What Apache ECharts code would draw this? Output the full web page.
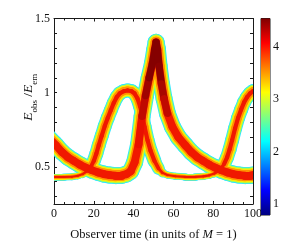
<!DOCTYPE html>
<html><head><meta charset="utf-8">
<script src="https://cdn.jsdelivr.net/npm/echarts@6/dist/echarts.min.js"></script>
<style>html,body{margin:0;padding:0;background:#fff}#c{width:298px;height:246px}</style>
</head><body><div id="c"></div>
<script>
// ---- data ----
const xTicks = [0, 20, 40, 60, 80, 100];
const yTickLabels = [0.5, 1, 1.5];
const yMinorTicks = [0.3, 0.4, 0.5, 0.6, 0.7, 0.8, 0.9, 1.0, 1.1, 1.2, 1.3, 1.4, 1.5];
const cbTicks = [1, 2, 3, 4];
const cbRange = [0.79, 4.53];

// centre line of the wide band (observer time, E_obs/E_em)
const bandA = [
  [-3, 0.70], [0, 0.658], [1, 0.645], [4, 0.60], [7, 0.565], [10, 0.54], [13, 0.515],
  [16, 0.495], [19, 0.478], [22, 0.463], [25, 0.452], [28, 0.445], [31, 0.441],
  [34, 0.443], [36.5, 0.452], [38.5, 0.47], [40.5, 0.53], [42.5, 0.65], [44.25, 0.84],
  [46, 0.98], [47.8, 1.1], [49.5, 1.2], [50.6, 1.29], [51.3, 1.34], [52.0, 1.29],
  [52.8, 1.18], [54.0, 1.06], [55.3, 0.96], [57.0, 0.86], [59.5, 0.77], [62.5, 0.70],
  [66, 0.645], [69, 0.60], [72, 0.565], [75, 0.54], [78, 0.515], [81, 0.495],
  [84, 0.478], [87, 0.463], [90, 0.452], [93, 0.445], [96, 0.441], [99, 0.443], [102, 0.452]
];
// centre line of the narrower band
const bandB = [
  [-3, 0.432], [0, 0.432], [5, 0.432], [9, 0.434], [12, 0.44], [14.5, 0.452], [16.5, 0.47],
  [18.5, 0.50], [20, 0.54], [21.3, 0.59], [22.5, 0.647], [24, 0.71], [25.5, 0.775],
  [27, 0.83], [28.5, 0.88], [30, 0.93], [31.5, 0.97], [33, 0.995], [35, 1.01], [37, 1.015],
  [39, 1.01], [40.5, 0.995], [42, 0.96], [43.2, 0.91], [44.25, 0.856], [45.5, 0.77],
  [47, 0.68], [48.5, 0.61], [50.5, 0.54], [52.5, 0.49], [54.5, 0.46], [57, 0.445],
  [61, 0.437], [66, 0.433], [71, 0.433], [75, 0.436], [78, 0.443], [80.5, 0.455],
  [82.5, 0.47], [84, 0.49], [85.5, 0.52], [87, 0.565], [88.3, 0.62], [89.5, 0.68],
  [91, 0.76], [92.5, 0.83], [94, 0.885], [95.5, 0.935], [97, 0.97], [98.5, 0.995],
  [100, 1.01], [102, 1.015]
];

// ---- styling ----
const FONT = "'Liberation Serif','Times New Roman',serif";
const layerColors = ['#2ee6ff', '#9cff5c', '#ffe800', '#ff9200', '#f01800'];
const aFactors = [1, 0.9, 0.79, 0.65, 0.46];
const bFactors = [1, 0.88, 0.75, 0.56, 0.3];
const A_W = 17;
function aWidth() { return A_W; }
function bWidth(y) {
  if (y < 0.45) return 7;
  if (y < 0.53) return 7 + (y - 0.45) / 0.08 * 7;
  return 14;
}
function hex2rgb(h) { return [1, 3, 5].map(i => parseInt(h.substr(i, 2), 16)); }
function mix(c1, c2, f) {
  const a = hex2rgb(c1), b = hex2rgb(c2);
  return 'rgb(' + a.map((v, i) => Math.round(v + (b[i] - v) * f)).join(',') + ')';
}
function segs(points, widthFn, factor, colorFn, filter) {
  const out = [];
  for (let i = 0; i < points.length - 1; i++) {
    const p = points[i], q = points[i + 1];
    const ym = (p[1] + q[1]) / 2, tm = (p[0] + q[0]) / 2;
    if (filter && !filter(tm, ym)) continue;
    const item = { coords: [p, q], lineStyle: { width: widthFn(ym, tm) * factor } };
    if (colorFn) item.lineStyle.color = colorFn(ym, tm);
    out.push(item);
  }
  return out;
}

const series = [];
for (let L = 0; L < 5; L++) {
  const data = segs(bandB, bWidth, bFactors[L]).concat(segs(bandA, aWidth, aFactors[L]));
  series.push({
    type: 'lines', coordinateSystem: 'cartesian2d', xAxisIndex: 0, yAxisIndex: 0,
    polyline: false, clip: true, silent: true, animation: false,
    lineStyle: { color: layerColors[L], opacity: 1, curveness: 0, cap: 'round', join: 'round' },
    data: data
  });
}
// dark core near the sharp peak
series.push({
  type: 'lines', coordinateSystem: 'cartesian2d', xAxisIndex: 0, yAxisIndex: 0,
  clip: true, silent: true, animation: false,
  lineStyle: { color: '#a00000', opacity: 1, curveness: 0, cap: 'round', join: 'round' },
  data: segs(bandA, aWidth, 0.42,
    (y) => mix('#e81000', '#850000', Math.min(1, Math.max(0, (y - 0.75) / 0.4))),
    (t, y) => t > 42.8 && t < 58 && y > 0.7)
});
// colour bar
const jet = new echarts.graphic.LinearGradient(0, 0, 0, 1, [
  { offset: 0, color: '#800000' }, { offset: 0.125, color: '#ff0000' },
  { offset: 0.375, color: '#ffff00' }, { offset: 0.5, color: '#80ff80' },
  { offset: 0.625, color: '#00ffff' }, { offset: 0.875, color: '#0000ff' },
  { offset: 1, color: '#000080' }
]);
series.push({ type: 'bar', xAxisIndex: 2, yAxisIndex: 2, stack: 'cb', barWidth: '100%',
  data: [cbRange[0]], itemStyle: { color: 'rgba(0,0,0,0)' }, silent: true, animation: false });
series.push({ type: 'bar', xAxisIndex: 2, yAxisIndex: 2, stack: 'cb', barWidth: '100%',
  data: [cbRange[1] - cbRange[0]], itemStyle: { color: jet }, silent: true, animation: false });

const lineC = '#1a1a1a';
const tickStyle = { inside: true, length: 3, lineStyle: { color: lineC } };
const labelStyle = { fontFamily: FONT, fontSize: 12, color: '#111' };
const fmt = v => String(+(+v).toFixed(2));

const option = {
  animation: false,
  backgroundColor: '#fff',
  grid: [
    { left: 54, top: 18.5, width: 199, height: 198.5 },
    { left: 261, top: 18.5, width: 9, height: 196.5, show: true, borderColor: lineC, borderWidth: 1, backgroundColor: 'transparent' }
  ],
  xAxis: [
    { type: 'value', gridIndex: 0, min: xTicks[0], max: xTicks[xTicks.length - 1], interval: xTicks[1] - xTicks[0],
      axisLine: { show: true, onZero: false, lineStyle: { color: lineC } },
      axisTick: tickStyle, minorTick: { show: true, splitNumber: 4, length: 2, lineStyle: { color: lineC } },
      splitLine: { show: false }, minorSplitLine: { show: false },
      axisLabel: Object.assign({ margin: 4, formatter: fmt }, labelStyle),
      name: 'Observer time (in units of {i|M} = 1)', nameLocation: 'middle', nameGap: 24, nameMoveOverlap: false,
      nameTextStyle: { fontFamily: FONT, fontSize: 12.5, color: '#111',
        rich: { i: { fontFamily: FONT, fontSize: 12.5, fontStyle: 'italic', color: '#111' } } } },
    { type: 'value', gridIndex: 0, position: 'top', min: xTicks[0], max: xTicks[xTicks.length - 1], interval: xTicks[1] - xTicks[0],
      axisLine: { show: true, onZero: false, lineStyle: { color: lineC } },
      axisTick: tickStyle, minorTick: { show: true, splitNumber: 4, length: 2, lineStyle: { color: lineC } },
      splitLine: { show: false }, axisLabel: { show: false } },
    { type: 'category', gridIndex: 1, data: [''], show: false, boundaryGap: true }
  ],
  yAxis: [
    { type: 'value', gridIndex: 0, min: 0.25, max: 1.5,
      axisLine: { show: true, onZero: false, lineStyle: { color: lineC } },
      axisTick: Object.assign({ customValues: yMinorTicks }, tickStyle),
      splitLine: { show: false },
      axisLabel: Object.assign({ margin: 4, customValues: yTickLabels, formatter: fmt }, labelStyle),
      name: '{e|E}{s|obs}{n| /}{e|E}{s|em}', nameLocation: 'middle', nameGap: 15, nameRotate: 90, nameMoveOverlap: false,
      nameTextStyle: { fontFamily: FONT, fontSize: 13, color: '#111', padding: [0, 0, 0, 28],
        rich: {
          e: { fontFamily: FONT, fontSize: 13.5, fontStyle: 'italic', color: '#111', verticalAlign: 'bottom', padding: [0, 0, 4, 0] },
          n: { fontFamily: FONT, fontSize: 13.5, color: '#111', verticalAlign: 'bottom', padding: [0, 0, 4, 0] },
          s: { fontFamily: FONT, fontSize: 9, color: '#111', verticalAlign: 'bottom' }
        } } },
    { type: 'value', gridIndex: 0, position: 'right', min: 0.25, max: 1.5,
      axisLine: { show: true, onZero: false, lineStyle: { color: lineC } },
      axisTick: Object.assign({ customValues: yMinorTicks }, tickStyle),
      splitLine: { show: false }, axisLabel: { show: false } },
    { type: 'value', gridIndex: 1, position: 'right', min: cbRange[0], max: cbRange[1],
      axisLine: { show: false }, splitLine: { show: false },
      axisTick: { inside: true, length: 2, customValues: cbTicks, lineStyle: { color: lineC } },
      axisLabel: Object.assign({ margin: 3, customValues: cbTicks, formatter: fmt }, labelStyle) },
    { type: 'value', gridIndex: 1, position: 'left', min: cbRange[0], max: cbRange[1],
      axisLine: { show: false }, splitLine: { show: false },
      axisTick: { inside: true, length: 2, customValues: cbTicks, lineStyle: { color: lineC } },
      axisLabel: { show: false } }
  ],
  series: series
};
const chart = echarts.init(document.getElementById('c'), null, { renderer: 'canvas', width: 298, height: 246 });
chart.setOption(option);
</script>
</body></html>
